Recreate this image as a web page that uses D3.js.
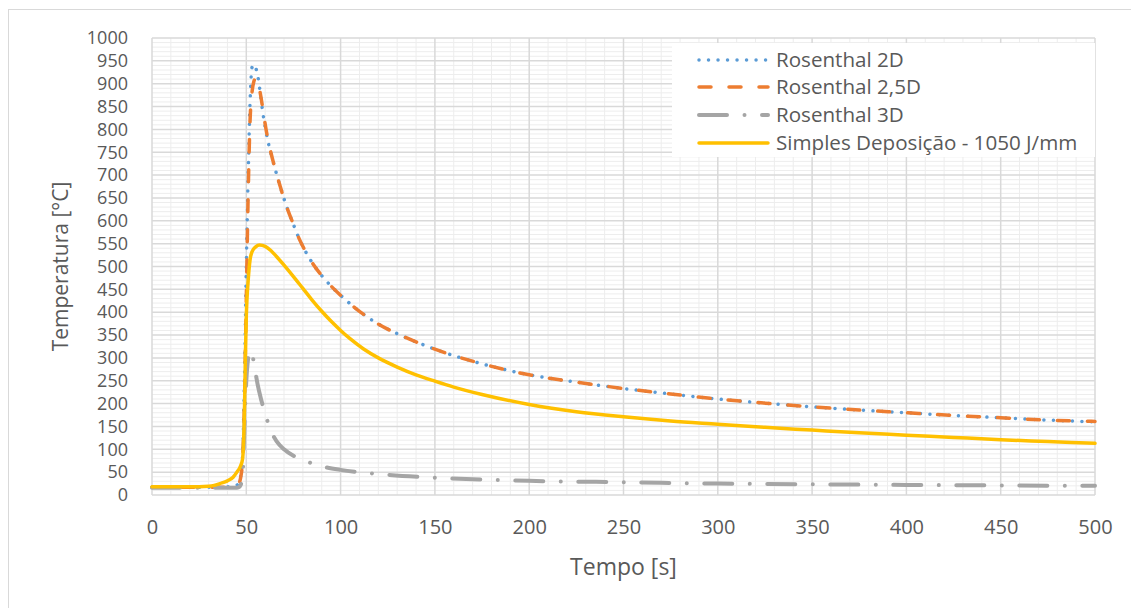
<!DOCTYPE html>
<html>
<head>
<meta charset="utf-8">
<script src="https://cdn.jsdelivr.net/npm/d3@7"></script>
<style>
  body { margin: 0; background: #fff; }
  text { font-family: "Open Sans", sans-serif; fill: #595959; }
</style>
</head>
<body>
<svg></svg>
<script>
const width = 1131;
const height = 608;

// Rosenthal 2D
const t2D = [0, 10, 20, 30, 40, 44, 46, 47, 48, 49, 50, 51, 52, 53, 54, 55, 56, 57, 58, 60, 62, 64, 66, 68, 70, 72, 75, 78, 81, 85, 90, 95, 100, 110, 120, 130, 140, 150, 175, 200, 225, 250, 275, 300, 325, 350, 375, 400, 425, 450, 475, 500];
const v2D = [17, 17, 17, 17, 18, 20, 25, 40, 85, 250, 500, 700, 860, 935, 942, 935, 918, 893, 860, 805, 765, 733, 703, 675, 648, 624, 592, 561, 536, 508, 480, 457, 437, 402, 374, 353, 335, 319, 287, 263, 247, 233, 221, 210, 201, 193, 186, 180, 174, 169, 164, 160];

// Rosenthal 2,5D
const t25D = [0, 10, 20, 30, 40, 44, 46, 47, 48, 49, 50, 51, 52, 53, 54, 55, 56, 57, 58, 59, 61, 63, 65, 68, 70, 72, 75, 78, 81, 85, 90, 95, 100, 110, 120, 130, 140, 150, 175, 200, 225, 250, 275, 300, 325, 350, 375, 400, 425, 450, 475, 500];
const v25D = [17, 17, 17, 17, 17, 19, 25, 38, 75, 200, 430, 660, 820, 880, 905, 912, 905, 888, 865, 838, 788, 750, 718, 675, 648, 624, 592, 561, 536, 508, 480, 457, 437, 402, 374, 353, 335, 319, 287, 263, 247, 233, 221, 210, 201, 193, 186, 180, 174, 169, 164, 161];

// Rosenthal 3D
const t3D = [0, 10, 20, 30, 40, 45, 46, 47, 48, 49, 50, 51, 52, 53, 54, 55, 56, 58, 60, 62, 64, 66, 70, 75, 81, 90, 100, 120, 150, 200, 250, 300, 350, 400, 450, 500];
const v3D = [16, 16, 16, 16, 16, 16, 17, 22, 40, 150, 250, 300, 316, 310, 290, 265, 242, 207, 178, 152, 132, 118, 100, 86, 75, 63, 55, 46, 38, 31, 28, 25, 23.5, 22, 21, 20];

// Simples Deposição - 1050 J/mm
const tSD = [0, 10, 20, 25, 30, 33, 36, 40, 43, 45, 47, 48, 48.5, 49, 49.5, 50, 51, 52, 53, 55, 57, 60, 63, 66, 70, 75, 80, 85, 90, 95, 100, 105, 112, 120, 130, 140, 150, 160, 175, 200, 225, 250, 275, 300, 325, 350, 375, 400, 425, 450, 475, 500];
const vSD = [18, 18, 18, 18, 19, 21, 25, 31, 39, 50, 64, 78, 110, 180, 300, 390, 470, 515, 532, 543, 547, 544, 535, 522, 503, 478, 452, 426, 402, 380, 360, 342, 320, 300, 280, 263, 249, 236, 220, 198, 182, 171, 162, 155, 148, 142, 136, 131, 126, 121, 117, 113];

const seriesNames = ["Rosenthal 2D", "Rosenthal 2,5D", "Rosenthal 3D", "Simples Deposição - 1050 J/mm"];
const seriesColors = ["#5B9BD5", "#ED7D31", "#A5A5A5", "#FFC000"];

const xTicks = [0, 50, 100, 150, 200, 250, 300, 350, 400, 450, 500];
const yTicks = [0, 50, 100, 150, 200, 250, 300, 350, 400, 450, 500, 550, 600, 650, 700, 750, 800, 850, 900, 950, 1000];

const series = [
  {name: seriesNames[0], color: seriesColors[0], t: t2D, v: v2D, w: 3.5, dash: "0.01,9.5"},
  {name: seriesNames[1], color: seriesColors[1], t: t25D, v: v25D, w: 3.5, dash: "12,18"},
  {name: seriesNames[2], color: seriesColors[2], t: t3D, v: v3D, w: 4, dash: "28,17.5,0.01,17.5"},
  {name: seriesNames[3], color: seriesColors[3], t: tSD, v: vSD, w: 3.5, dash: null}
];

const svg = d3.select("svg")
  .attr("width", width)
  .attr("height", height);

// outer chart border
svg.append("rect")
  .attr("x", 8.5).attr("y", 9.5)
  .attr("width", width + 10).attr("height", height + 10)
  .style("fill", "#fff")
  .style("stroke", "#d9d9d9");

const margin = {top: 38, right: 36, bottom: 113, left: 152};
const x = d3.scaleLinear().domain([0, 500]).range([margin.left, width - margin.right]);
const y = d3.scaleLinear().domain([0, 1000]).range([height - margin.bottom, margin.top]);

// minor grid every 10
const grid = svg.append("g");
grid.selectAll(".mx").data(d3.range(0, 501, 10).filter(d => d % 50))
  .enter().append("line")
  .attr("x1", d => x(d)).attr("x2", d => x(d))
  .attr("y1", y(0)).attr("y2", y(1000))
  .style("stroke", "#ededed").style("stroke-width", 1);
grid.selectAll(".my").data(d3.range(0, 1001, 10).filter(d => d % 50))
  .enter().append("line")
  .attr("y1", d => y(d)).attr("y2", d => y(d))
  .attr("x1", x(0)).attr("x2", x(500))
  .style("stroke", "#ededed").style("stroke-width", 1);
// major grid
grid.selectAll(".Mx").data(xTicks)
  .enter().append("line")
  .attr("x1", d => x(d)).attr("x2", d => x(d))
  .attr("y1", y(0)).attr("y2", y(1000))
  .style("stroke", "#d9d9d9").style("stroke-width", 1.5);
grid.selectAll(".My").data(yTicks)
  .enter().append("line")
  .attr("y1", d => y(d)).attr("y2", d => y(d))
  .attr("x1", x(0)).attr("x2", x(500))
  .style("stroke", "#d9d9d9").style("stroke-width", 1.5);

// axes, labels only
const xAxis = svg.append("g")
  .attr("transform", "translate(0," + y(0) + ")")
  .call(d3.axisBottom(x).tickValues(xTicks).tickSize(0).tickPadding(25).tickFormat(d3.format("d")));
const yAxis = svg.append("g")
  .attr("transform", "translate(" + (x(0) - 24) + ",0)")
  .call(d3.axisLeft(y).tickValues(yTicks).tickSize(0).tickPadding(0).tickFormat(d3.format("d")));
[xAxis, yAxis].forEach(a => {
  a.select(".domain").remove();
  a.selectAll("text")
    .style("font-family", "'Open Sans', sans-serif")
    .style("fill", "#595959");
});
xAxis.selectAll("text").style("font-size", "20px");
yAxis.selectAll("text").style("font-size", "18px");

// lines
const line = d3.line()
  .x(d => x(d[0]))
  .y(d => y(d[1]))
  .curve(d3.curveMonotoneX);

series.forEach(s => {
  svg.append("path")
    .datum(s.t.map((t, i) => [t, s.v[i]]))
    .attr("d", line)
    .style("fill", "none")
    .style("stroke", s.color)
    .style("stroke-width", s.w)
    .style("stroke-linecap", "round")
    .style("stroke-linejoin", "round")
    .style("stroke-dasharray", s.dash);
});

// axis titles
svg.append("text")
  .attr("x", (x(0) + x(500)) / 2)
  .attr("y", 575)
  .attr("text-anchor", "middle")
  .style("font-size", "23px")
  .text("Tempo [s]");

svg.append("text")
  .attr("transform", "translate(68," + ((y(0) + y(1000)) / 2) + ") rotate(-90)")
  .attr("text-anchor", "middle")
  .style("font-size", "21px")
  .text("Temperatura [°C]");

// legend
const legend = svg.append("g");
legend.append("rect")
  .attr("x", 672).attr("y", 43)
  .attr("width", x(500) - 672).attr("height", 114)
  .style("fill", "#fff");

const rowY = [60, 87, 115, 143];
series.forEach((s, i) => {
  legend.append("line")
    .attr("x1", 699).attr("x2", 768)
    .attr("y1", rowY[i]).attr("y2", rowY[i])
    .style("stroke", s.color)
    .style("stroke-width", s.w)
    .style("stroke-linecap", "round")
    .style("stroke-dasharray", s.dash);
  legend.append("text")
    .attr("x", 776)
    .attr("y", rowY[i])
    .attr("dy", "0.35em")
    .style("font-size", "20.6px")
    .text(s.name);
});
</script>
</body>
</html>
